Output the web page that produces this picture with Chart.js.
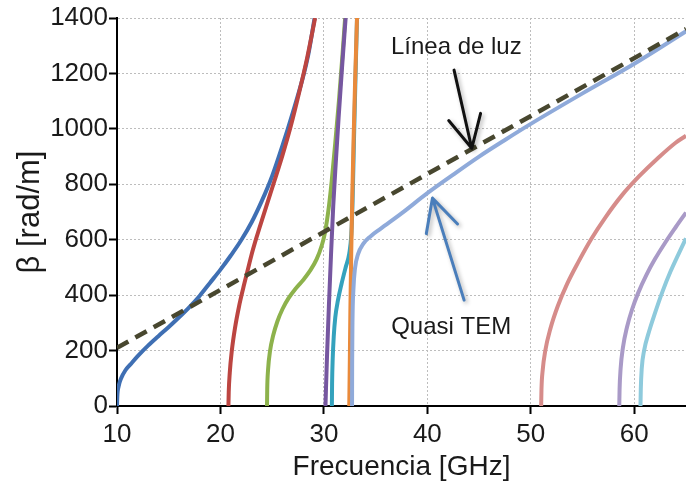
<!DOCTYPE html>
<html>
<head>
<meta charset="utf-8">
<script src="https://cdn.jsdelivr.net/npm/chart.js@4.4.1/dist/chart.umd.min.js"></script>
<style>
  html, body { margin: 0; padding: 0; background: #fff; }
  #wrap { width: 686px; height: 484px; }
</style>
</head>
<body>
<div id="wrap"><canvas id="chart" width="686" height="484"></canvas></div>
<script>
// ticks
const xTicks = [10, 20, 30, 40, 50, 60];
const yTicks = [0, 200, 400, 600, 800, 1000, 1200, 1400];

// modos: frecuencia (GHz) / beta (rad/m)
const mode1F = [10, 10.03, 10.15, 10.4, 10.8, 11.3, 12, 13, 14, 15, 16, 17, 18, 19, 20, 21, 22, 23, 24, 25, 26, 27, 28, 28.5, 29.1];
const mode1B = [0, 35, 70, 100, 128, 150, 180, 218, 252, 285, 320, 357, 398, 445, 492, 543, 598, 662, 740, 830, 940, 1060, 1190, 1270, 1400];

const mode2F = [20.77, 20.8, 20.9, 21.1, 21.4, 21.8, 22.2, 22.6, 23.0, 23.5, 24.0, 24.6, 25.2, 26.0, 26.8, 27.6, 28.4, 29.15];
const mode2B = [0, 50, 120, 200, 280, 360, 425, 485, 545, 610, 670, 740, 810, 905, 1010, 1130, 1260, 1400];

const mode3F = [24.5, 24.52, 24.6, 24.8, 25.1, 25.5, 26.0, 26.6, 27.3, 28.0, 28.7, 29.3, 29.8, 30.1, 30.3, 30.5, 30.75, 31.1, 31.45, 31.8, 32.05];
const mode3B = [0, 60, 130, 200, 255, 305, 350, 390, 425, 455, 490, 530, 580, 625, 670, 725, 810, 950, 1100, 1270, 1400];

const mode4F = [30.15, 30.3, 30.48, 30.68, 30.9, 31.15, 31.42, 31.75, 32.1];
const mode4B = [0, 180, 360, 540, 720, 880, 1040, 1220, 1400];

const mode5F = [30.77, 30.79, 30.85, 30.95, 31.1, 31.35, 31.7, 32.1, 32.45, 32.65, 32.78, 32.9, 33.05, 33.2];
const mode5B = [0, 80, 170, 250, 320, 380, 440, 500, 550, 620, 750, 950, 1180, 1400];

const mode6F = [32.45, 32.5, 32.56, 32.64, 32.74, 32.86, 33.0, 33.2];
const mode6B = [0, 150, 350, 550, 750, 950, 1150, 1400];

// quasi TEM
const temF = [32.72, 32.73, 32.76, 32.85, 33.0, 33.3, 33.8, 34.5, 35.5, 37.5, 40, 42.5, 45, 47.5, 50, 55, 60, 65];
const temB = [0, 150, 300, 420, 495, 548, 585, 612, 640, 695, 768, 835, 900, 960, 1018, 1128, 1235, 1352];

const mode8F = [51.0, 51.03, 51.15, 51.4, 51.9, 52.6, 53.5, 54.6, 55.8, 57.2, 58.8, 60.5, 62.3, 64, 65];
const mode8B = [0, 60, 130, 200, 280, 360, 440, 520, 600, 680, 760, 830, 895, 950, 975];

const mode9F = [58.55, 58.58, 58.68, 58.9, 59.3, 59.8, 60.4, 61.2, 62.0, 63.0, 64.0, 65];
const mode9B = [0, 60, 135, 210, 285, 350, 410, 475, 530, 590, 645, 698];

const mode10F = [60.6, 60.63, 60.72, 60.95, 61.4, 62.0, 62.7, 63.5, 64.3, 65];
const mode10B = [0, 60, 135, 200, 265, 335, 410, 485, 550, 605];

// linea de luz
const lightF = [10, 65];
const lightB = [210, 1360];

const FONT = "'Liberation Sans', Arial, sans-serif";
const TXT = '#1a1a1a';

const pts = (f, b) => f.map((v, i) => ({ x: v, y: b[i] }));

function curve(f, b, color, order) {
  return {
    data: pts(f, b),
    borderColor: color,
    borderWidth: 4,
    pointRadius: 0,
    showLine: true,
    cubicInterpolationMode: 'monotone',
    fill: false,
    order: order
  };
}

const datasets = [
  curve(mode1F, mode1B, '#3F6FB3', 11),
  curve(mode2F, mode2B, '#BC4541', 10),
  curve(mode3F, mode3B, '#8DB24C', 9),
  curve(mode4F, mode4B, '#7657A0', 8),
  curve(mode5F, mode5B, '#34A2BD', 7),
  curve(mode6F, mode6B, '#E98A3B', 6),
  curve(temF, temB, '#8FAADA', 5),
  curve(mode8F, mode8B, '#D68C8A', 4),
  curve(mode9F, mode9B, '#A99AC7', 3),
  curve(mode10F, mode10B, '#8ECADC', 2),
  Object.assign(curve(lightF, lightB, '#48472F', 1), { borderDash: [13, 8], borderWidth: 4.5, cubicInterpolationMode: 'default', tension: 0 })
];

// textos y flechas
const annot = {
  id: 'annot',
  afterDatasetsDraw(chart) {
    const { ctx, scales: { x, y } } = chart;
    const px = (f, b) => [x.getPixelForValue(f), y.getPixelForValue(b)];

    function arrow(from, to, color) {
      const [x1, y1] = px(from[0], from[1]);
      const [x2, y2] = px(to[0], to[1]);
      const a = Math.atan2(y1 - y2, x1 - x2);
      const len = 36, spread = 27 * Math.PI / 180;
      ctx.save();
      ctx.strokeStyle = color;
      ctx.lineWidth = 3;
      ctx.lineCap = 'round';
      ctx.lineJoin = 'round';
      ctx.shadowColor = 'rgba(0,0,0,0.3)';
      ctx.shadowBlur = 4;
      ctx.shadowOffsetX = 2;
      ctx.shadowOffsetY = 2;
      ctx.beginPath();
      ctx.moveTo(x1, y1);
      ctx.lineTo(x2, y2);
      ctx.moveTo(x2 + len * Math.cos(a - spread), y2 + len * Math.sin(a - spread));
      ctx.lineTo(x2, y2);
      ctx.lineTo(x2 + len * Math.cos(a + spread), y2 + len * Math.sin(a + spread));
      ctx.stroke();
      ctx.restore();
    }

    arrow([42.58, 1212], [44.29, 930], '#111111');
    arrow([43.55, 382], [40.49, 750], '#4A7EBB');

    ctx.save();
    ctx.fillStyle = TXT;
    ctx.font = '24px ' + FONT;
    ctx.textAlign = 'center';
    ctx.textBaseline = 'middle';
    let p = px(42.8, 1295);
    ctx.fillText('Línea de luz', p[0], p[1]);
    p = px(42.3, 285);
    ctx.fillText('Quasi TEM', p[0], p[1]);
    ctx.restore();
  }
};

new Chart(document.getElementById('chart'), {
  type: 'scatter',
  data: { datasets },
  options: {
    responsive: false,
    animation: false,
    layout: { padding: { top: 18, right: 0, bottom: 0, left: 0 } },
    plugins: { legend: { display: false }, tooltip: { enabled: false } },
    scales: {
      x: {
        type: 'linear',
        min: 10,
        max: 65,
        afterBuildTicks: s => { s.ticks = xTicks.map(v => ({ value: v })); },
        afterFit: s => { s.height = 78; },
        grid: { color: '#BDBDBD', lineWidth: 1, tickLength: 8, tickColor: '#000', tickWidth: 2, tickBorderDash: [] },
        border: { color: '#000', width: 2, dash: [2, 2] },
        ticks: { color: TXT, font: { family: FONT, size: 26 }, padding: 5, maxRotation: 0, callback: v => String(v) },
        title: { display: true, text: 'Frecuencia [GHz]', color: TXT, font: { family: FONT, size: 28 }, padding: { top: 0, bottom: 0 } }
      },
      y: {
        type: 'linear',
        min: 0,
        max: 1400,
        afterBuildTicks: s => { s.ticks = yTicks.map(v => ({ value: v })); },
        afterFit: s => { s.width = 117; },
        grid: { color: '#BDBDBD', lineWidth: 1, tickLength: 8, tickColor: '#000', tickWidth: 2, tickBorderDash: [] },
        border: { color: '#000', width: 2, dash: [2, 2] },
        ticks: { color: TXT, font: { family: FONT, size: 26 }, padding: 1, callback: v => String(v) },
        title: { display: true, text: 'β [rad/m]', color: TXT, font: { family: FONT, size: 31 }, padding: { top: 12, bottom: 0 } }
      }
    }
  },
  plugins: [annot]
});
</script>
</body>
</html>
